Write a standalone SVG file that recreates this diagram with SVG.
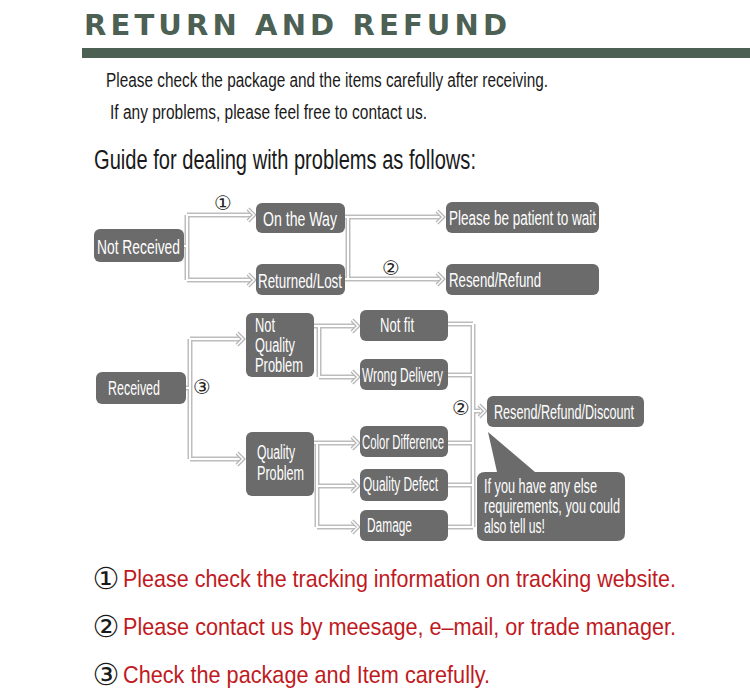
<svg xmlns="http://www.w3.org/2000/svg" xmlns:xlink="http://www.w3.org/1999/xlink" width="750" height="696" viewBox="0 0 750 696">
<style>
.hdr{font-family:"DejaVu Sans",Verdana,sans-serif;font-weight:bold;font-size:29px;fill:#4c6054}
.body{font-family:"Liberation Sans Narrow","Liberation Sans",Arial,sans-serif;fill:#1a1a1a}
.box{fill:#6b6b6b}
.nt{font-family:"Liberation Sans Narrow","Liberation Sans",Arial,sans-serif;fill:#ffffff;font-size:21px}
.ln{fill:none;stroke:#bdbdbd;stroke-width:5}
.li{fill:none;stroke:#ffffff;stroke-width:2}
.cl{fill:none;stroke:#b5b5b5;stroke-width:4;stroke-linejoin:miter}
.ci{fill:none;stroke:#ffffff;stroke-width:1.5}
.num{font-family:"DejaVu Sans",sans-serif;fill:#222;font-size:20px;text-anchor:middle}
.bnum{font-family:"DejaVu Sans",sans-serif;fill:#1a1a1a;font-size:30px;text-anchor:middle}
.red{font-family:"Liberation Sans",Arial,sans-serif;fill:#bf1a22;font-size:24px}
</style>
<defs>
<path id="wires" d="M184,246 H187 M187,215 V280 M187,215 H251 M187,280 H251
M345,217 H348 M345,279 H348 M348,217 V279 M348,217 H440 M348,279 H440
M186,388 H190 M190,339 V459 M190,339 H240 M190,459 H240
M313,326 H319 V377 M319,326 H355 M319,377 H355
M313,443 H317 V527 M317,443 H355 M317,486 H355 M317,527 H355
M448,324 H473 M448,375 H473 M448,443 H473 M448,485 H473 M448,527 H473 M473,324 V527 M473,411 H480"/>
<path id="chev" d="M248,209 L254,215 L248,221 M248,274 L254,280 L248,286
M437,211 L443,217 L437,223 M437,273 L443,279 L437,285
M237,333 L243,339 L237,345 M237,453 L243,459 L237,465
M352,320 L358,326 L352,332 M352,371 L358,377 L352,383
M352,437 L358,443 L352,449 M352,480 L358,486 L352,492 M352,521 L358,527 L352,533
M479,405 L485,411 L479,417"/>
</defs>

<g id="header">
<text class="hdr" x="84" y="35" textLength="423" lengthAdjust="spacing">RETURN AND REFUND</text>
<rect x="82" y="48" width="668" height="10" fill="#4c6054"/>
</g>

<g id="intro">
<text class="body" transform="matrix(0.8 0 0 1 106 87)" font-size="20" textLength="552.5" lengthAdjust="spacingAndGlyphs">Please check the package and the items carefully after receiving.</text>
<text class="body" transform="matrix(0.8 0 0 1 110 119)" font-size="20" textLength="396.25" lengthAdjust="spacingAndGlyphs">If any problems, please feel free to contact us.</text>
<text class="body" transform="matrix(0.8 0 0 1 94 169)" font-size="28" textLength="477.5" lengthAdjust="spacingAndGlyphs">Guide for dealing with problems as follows:</text>
</g>

<g id="connectors">
<use xlink:href="#wires" class="ln"/>
<use xlink:href="#wires" class="li"/>
<use xlink:href="#chev" class="cl"/>
<use xlink:href="#chev" class="ci"/>
<text class="num" x="223" y="210">①</text>
<text class="num" x="391" y="275">②</text>
<text class="num" x="202" y="394">③</text>
<text class="num" x="461" y="415">②</text>
</g>

<g id="n_not_received">
<rect class="box" x="94" y="229" width="90" height="33" rx="6"/>
<text class="nt" transform="matrix(0.8 0 0 1 97 254)" font-size="24" textLength="103.75" lengthAdjust="spacingAndGlyphs">Not Received</text>
</g>
<g id="n_on_the_way">
<rect class="box" x="256" y="203" width="89" height="30" rx="6"/>
<text class="nt" transform="matrix(0.8 0 0 1 263 226)" font-size="23" textLength="92.5" lengthAdjust="spacingAndGlyphs">On the Way</text>
</g>
<g id="n_returned_lost">
<rect class="box" x="256" y="264" width="89" height="31" rx="6"/>
<text class="nt" transform="matrix(0.8 0 0 1 258 288)" font-size="23" textLength="105" lengthAdjust="spacingAndGlyphs">Returned/Lost</text>
</g>
<g id="n_patient">
<rect class="box" x="446" y="202" width="153" height="31" rx="6"/>
<text class="nt" transform="matrix(0.8 0 0 1 449 225)" textLength="183.75" lengthAdjust="spacingAndGlyphs">Please be patient to wait</text>
</g>
<g id="n_resend_refund">
<rect class="box" x="446" y="264" width="153" height="31" rx="6"/>
<text class="nt" transform="matrix(0.8 0 0 1 449 287)" textLength="115" lengthAdjust="spacingAndGlyphs">Resend/Refund</text>
</g>
<g id="n_received">
<rect class="box" x="96" y="372" width="90" height="32" rx="6"/>
<text class="nt" transform="matrix(0.8 0 0 1 108 395)" textLength="65" lengthAdjust="spacingAndGlyphs">Received</text>
</g>
<g id="n_not_quality">
<rect class="box" x="246" y="313" width="68" height="64" rx="6"/>
<text class="nt" transform="matrix(0.8 0 0 1 255 332)" font-size="16.5" textLength="25" lengthAdjust="spacingAndGlyphs">Not</text>
<text class="nt" transform="matrix(0.8 0 0 1 255 352)" font-size="16.5" textLength="50" lengthAdjust="spacingAndGlyphs">Quality</text>
<text class="nt" transform="matrix(0.8 0 0 1 255 372)" font-size="16.5" textLength="60" lengthAdjust="spacingAndGlyphs">Problem</text>
</g>
<g id="n_quality">
<rect class="box" x="246" y="432" width="68" height="64" rx="6"/>
<text class="nt" transform="matrix(0.8 0 0 1 257 459)" font-size="18" textLength="47.5" lengthAdjust="spacingAndGlyphs">Quality</text>
<text class="nt" transform="matrix(0.8 0 0 1 257 480)" font-size="18" textLength="58.75" lengthAdjust="spacingAndGlyphs">Problem</text>
</g>
<g id="n_not_fit">
<rect class="box" x="360" y="310" width="88" height="31" rx="6"/>
<text class="nt" transform="matrix(0.8 0 0 1 380 332)" textLength="42.5" lengthAdjust="spacingAndGlyphs">Not fit</text>
</g>
<g id="n_wrong_delivery">
<rect class="box" x="360" y="359" width="88" height="31" rx="6"/>
<text class="nt" transform="matrix(0.8 0 0 1 362 382)" textLength="101.25" lengthAdjust="spacingAndGlyphs">Wrong Delivery</text>
</g>
<g id="n_color_difference">
<rect class="box" x="360" y="426" width="88" height="31" rx="6"/>
<text class="nt" transform="matrix(0.8 0 0 1 362 449)" textLength="102.5" lengthAdjust="spacingAndGlyphs">Color Difference</text>
</g>
<g id="n_quality_defect">
<rect class="box" x="360" y="469" width="88" height="32" rx="6"/>
<text class="nt" transform="matrix(0.8 0 0 1 363 491)" textLength="93.75" lengthAdjust="spacingAndGlyphs">Quality Defect</text>
</g>
<g id="n_damage">
<rect class="box" x="360" y="510" width="88" height="31" rx="6"/>
<text class="nt" transform="matrix(0.8 0 0 1 367 532)" textLength="56.25" lengthAdjust="spacingAndGlyphs">Damage</text>
</g>
<g id="n_resend_refund_discount">
<rect class="box" x="487" y="396" width="157" height="31" rx="6"/>
<text class="nt" transform="matrix(0.8 0 0 1 494 419)" font-size="22" textLength="175" lengthAdjust="spacingAndGlyphs">Resend/Refund/Discount</text>
</g>
<g id="n_bubble">
<path class="box" d="M485,472 H497 L488,432 L535,472 H617 Q625,472 625,480 V533 Q625,541 617,541 H485 Q477,541 477,533 V480 Q477,472 485,472 Z"/>
<text class="nt" transform="matrix(0.8 0 0 1 484 493)" font-size="18.5" textLength="141.25" lengthAdjust="spacingAndGlyphs">If you have any else</text>
<text class="nt" transform="matrix(0.8 0 0 1 484 513)" font-size="18.5" textLength="170" lengthAdjust="spacingAndGlyphs">requirements, you could</text>
<text class="nt" transform="matrix(0.8 0 0 1 484 533)" font-size="18.5" textLength="76.25" lengthAdjust="spacingAndGlyphs">also tell us!</text>
</g>

<g id="notes">
<text class="bnum" x="106" y="589">①</text>
<text class="red" transform="matrix(0.9 0 0 1 123 587)" textLength="614.4" lengthAdjust="spacingAndGlyphs">Please check the tracking information on tracking website.</text>
<text class="bnum" x="106" y="637">②</text>
<text class="red" transform="matrix(0.9 0 0 1 123 635)" textLength="614.4" lengthAdjust="spacingAndGlyphs">Please contact us by meesage, e–mail, or trade manager.</text>
<text class="bnum" x="106" y="685">③</text>
<text class="red" transform="matrix(0.9 0 0 1 123 683)" textLength="407.8" lengthAdjust="spacingAndGlyphs">Check the package and Item carefully.</text>
</g>
</svg>
